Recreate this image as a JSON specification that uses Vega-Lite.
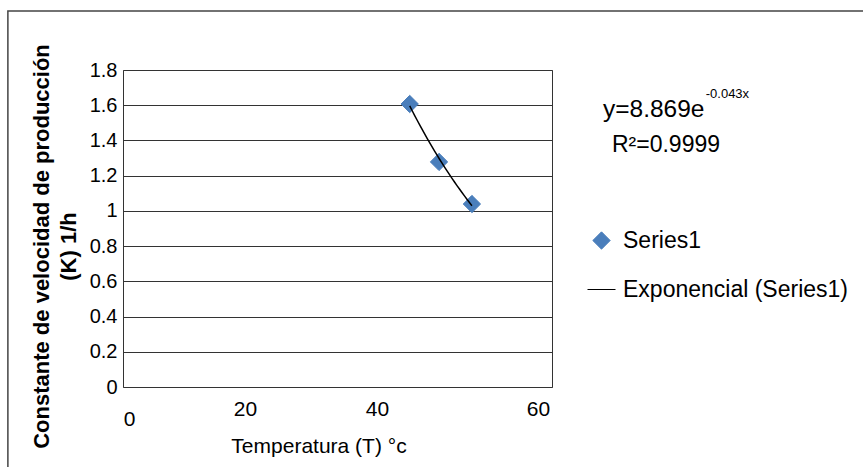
{
  "$schema": "https://vega.github.io/schema/vega-lite/v6.json",
  "width": 429,
  "height": 317,
  "autosize": "none",
  "padding": {"left": 123, "top": 70, "right": 311, "bottom": 80},
  "background": "white",
  "config": {
    "view": {"stroke": "#333333", "strokeWidth": 1},
    "font": "Liberation Sans"
  },
  "data": {
    "values": [
      {"T": 40.1, "K": 1.607, "series": "Series1"},
      {"T": 44.2, "K": 1.278, "series": "Series1"},
      {"T": 48.8, "K": 1.039, "series": "Series1"}
    ]
  },
  "layer": [
    {
      "mark": {"type": "point", "opacity": 1, "strokeWidth": 1},
      "encoding": {
        "x": {
          "field": "T", "type": "quantitative",
          "scale": {"domain": [0, 60], "nice": false, "zero": false},
          "axis": {
            "title": "Temperatura (T) °c",
            "titleFont": "Liberation Sans", "titleFontSize": 21, "titleFontWeight": "normal", "titleColor": "#000000",
            "titleX": 195.5, "titleY": 65, "titleAlign": "center", "titleBaseline": "alphabetic",
            "values": [0, 20, 40, 60],
            "grid": false, "ticks": false, "domain": false,
            "labelFont": "Liberation Sans", "labelFontSize": 21, "labelColor": "#000000",
            "labelBaseline": "alphabetic", "labelOverlap": false, "labelFlush": false, "labelBound": false,
            "labelPadding": {"condition": {"test": "datum.value === 0", "value": 38}, "value": 28},
            "labelOffset": {"condition": [
              {"test": "datum.value === 0", "value": 6},
              {"test": "datum.value === 20", "value": -21},
              {"test": "datum.value === 40", "value": -32}
            ], "value": -14}
          }
        },
        "y": {
          "field": "K", "type": "quantitative",
          "scale": {"domain": [0, 1.8], "nice": false},
          "axis": {
            "title": ["Constante de velocidad de producción", "(K) 1/h"],
            "titleFont": "Liberation Sans", "titleFontSize": 22, "titleFontWeight": "bold", "titleColor": "#000000",
            "titleLineHeight": 27, "titleX": -82, "titleY": 176, "titleAlign": "center", "titleBaseline": "middle", "titleAngle": 270,
            "values": [0, 0.2, 0.4, 0.6, 0.8, 1, 1.2, 1.4, 1.6, 1.8],
            "tickCount": 10,
            "format": "~g",
            "grid": true, "gridColor": "#333333", "gridWidth": 1, "gridOpacity": 1,
            "ticks": false, "domain": false,
            "labelFont": "Liberation Sans", "labelFontSize": 20, "labelColor": "#000000",
            "labelPadding": 6, "labelOverlap": false, "labelFlush": false, "labelBound": false
          }
        },
        "shape": {
          "field": "series", "type": "nominal",
          "scale": {"domain": ["Series1", "Exponencial (Series1)"], "range": ["diamond", "stroke"]},
          "legend": {
            "title": null, "orient": "none", "legendX": 464, "legendY": 159,
            "labelFont": "Liberation Sans", "labelFontSize": 23, "labelColor": "#000000", "labelLimit": 0,
            "labelOffset": 7, "rowPadding": 22, "symbolStrokeWidth": 1, "symbolOpacity": 1, "padding": 0
          }
        },
        "fill": {
          "field": "series", "type": "nominal",
          "scale": {"domain": ["Series1", "Exponencial (Series1)"], "range": ["#4A7EBB", "#000000"]}
        },
        "stroke": {
          "field": "series", "type": "nominal",
          "scale": {"domain": ["Series1", "Exponencial (Series1)"], "range": ["#4A7EBB", "#000000"]}
        },
        "size": {
          "field": "series", "type": "nominal",
          "scale": {"domain": ["Series1", "Exponencial (Series1)"], "range": [300, 784]}
        }
      }
    },
    {
      "transform": [{"regression": "K", "on": "T", "method": "exp"}],
      "mark": {"type": "line", "color": "#000000", "strokeWidth": 1.5},
      "encoding": {
        "x": {"field": "T", "type": "quantitative"},
        "y": {"field": "K", "type": "quantitative"}
      }
    },
    {
      "data": {"values": [{}]},
      "mark": {"type": "rect", "fill": null, "stroke": "#444444", "strokeWidth": 1.5, "clip": false},
      "encoding": {
        "x": {"datum": -16.1, "type": "quantitative"},
        "x2": {"datum": 110},
        "y": {"datum": 2.135, "type": "quantitative"},
        "y2": {"datum": -0.6}
      }
    },
    {
      "data": {"values": [{}]},
      "mark": {"type": "text", "align": "left", "baseline": "alphabetic", "font": "Liberation Sans", "fontSize": 24.5, "color": "#000000"},
      "encoding": {
        "x": {"datum": 67.13, "type": "quantitative"},
        "y": {"datum": 1.535, "type": "quantitative"},
        "text": {"value": "y=8.869e"}
      }
    },
    {
      "data": {"values": [{}]},
      "mark": {"type": "text", "align": "left", "baseline": "alphabetic", "font": "Liberation Sans", "fontSize": 13, "color": "#000000"},
      "encoding": {
        "x": {"datum": 81.5, "type": "quantitative"},
        "y": {"datum": 1.64, "type": "quantitative"},
        "text": {"value": "-0.043x"}
      }
    },
    {
      "data": {"values": [{}]},
      "mark": {"type": "text", "align": "left", "baseline": "alphabetic", "font": "Liberation Sans", "fontSize": 23, "color": "#000000"},
      "encoding": {
        "x": {"datum": 68.39, "type": "quantitative"},
        "y": {"datum": 1.334, "type": "quantitative"},
        "text": {"value": "R²=0.9999"}
      }
    }
  ]
}
